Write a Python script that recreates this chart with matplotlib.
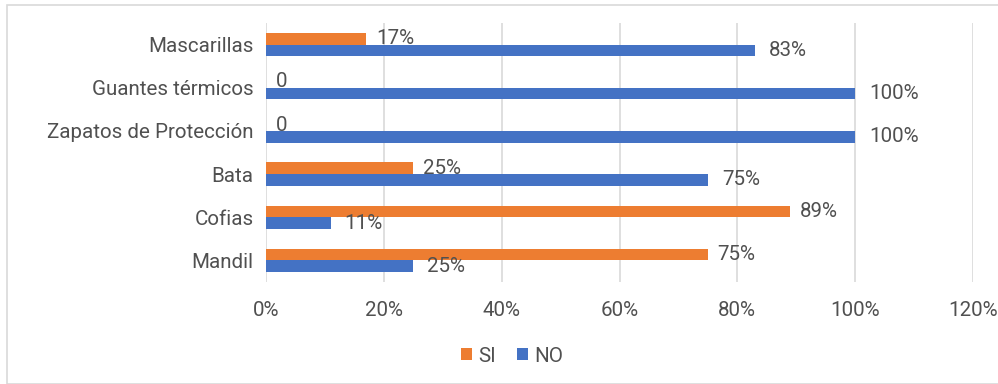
import numpy as np
import matplotlib.pyplot as plt
from matplotlib.patches import Rectangle

categorias = ['Mandil', 'Cofias', 'Bata', 'Zapatos de Protección', 'Guantes térmicos', 'Mascarillas']
si = [0.75, 0.89, 0.25, 0.0, 0.0, 0.17]
no = [0.25, 0.11, 0.75, 1.00, 1.00, 0.83]
etiquetas_si = ['75%', '89%', '25%', '0', '0', '17%']
etiquetas_no = ['25%', '11%', '75%', '100%', '100%', '83%']
ticks = [0, 0.2, 0.4, 0.6, 0.8, 1.0, 1.2]

naranja = '#ED7D31'
azul = '#4472C4'
gris = '#505050'

plt.rcParams['font.family'] = ['Roboto', 'DejaVu Sans']

fig = plt.figure(figsize=(9.98, 3.84), dpi=100)
ax = fig.add_axes([266 / 998, 1 - 282 / 384, (973 - 266) / 998, (282 - 23) / 384])

y = np.arange(len(categorias))
h = 0.27
ax.barh(y + h / 2, si, height=h, color=naranja, label='SI', zorder=3)
ax.barh(y - h / 2, no, height=h, color=azul, label='NO', zorder=3)

fs = 14.8
for i in range(len(categorias)):
    ax.annotate(etiquetas_si[i], (si[i], y[i] + h / 2), xytext=(7, 0), textcoords='offset points',
                va='center', ha='left', fontsize=fs, color=gris)
    ax.annotate(etiquetas_no[i], (no[i], y[i] - h / 2), xytext=(10, 0), textcoords='offset points',
                va='center', ha='left', fontsize=fs, color=gris)

ax.set_xlim(0, 1.2)
ax.set_ylim(-0.5, len(categorias) - 0.5)
ax.set_xticks(ticks)
ax.set_xticklabels([f'{int(round(t * 100))}%' for t in ticks])
ax.set_yticks(y)
ax.set_yticklabels(categorias)
ax.tick_params(axis='both', length=0, labelsize=fs, labelcolor=gris)
ax.tick_params(axis='x', pad=14)
ax.tick_params(axis='y', pad=9)
ax.grid(axis='x', color='#D9D9D9', linewidth=1.2, zorder=0)
for s in ax.spines.values():
    s.set_visible(False)

handles, labels = ax.get_legend_handles_labels()
fig.legend(handles, labels, loc='center', bbox_to_anchor=(512 / 998, 1 - 356 / 384), ncol=2,
           frameon=False, fontsize=fs, labelcolor=gris, handlelength=0.55, handleheight=0.55,
           handletextpad=0.3, columnspacing=1.0)

fig.patches.append(Rectangle((7 / 998, 0), 1.0, 1 - 5 / 384, transform=fig.transFigure,
                             fill=False, edgecolor='#D9D9D9', linewidth=1.2))

fig.savefig('out.png', dpi=100)
